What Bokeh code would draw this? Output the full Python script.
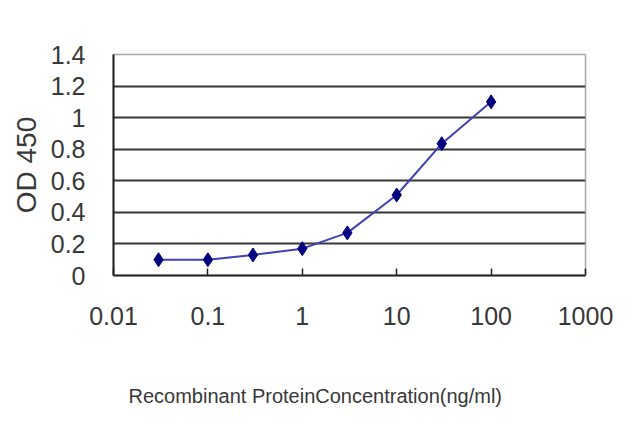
from bokeh.plotting import figure
from bokeh.models import FixedTicker, CustomJSTickFormatter, Range1d, Title
from bokeh.embed import file_html
from bokeh.resources import INLINE

# concentration (ng/ml) and OD 450 readings
conc = [0.03, 0.1, 0.3, 1, 3, 10, 30, 100]
od450 = [0.10, 0.10, 0.13, 0.17, 0.27, 0.51, 0.835, 1.10]

x_ticks = [0.01, 0.1, 1, 10, 100, 1000]
x_tick_labels = ["0.01", "0.1", "1", "10", "100", "1000"]
y_ticks = [0, 0.2, 0.4, 0.6, 0.8, 1.0, 1.2, 1.4]
y_tick_labels = ["0", "0.2", "0.4", "0.6", "0.8", "1", "1.2", "1.4"]
grid_lines = [0.2, 0.4, 0.6, 0.8, 1.0, 1.2]

FONT = "Liberation Sans, Arial, sans-serif"
TEXT = "#383838"

p = figure(width=624, height=411, x_axis_type="log",
           x_range=Range1d(0.01, 1000), y_range=Range1d(0, 1.4),
           output_backend="svg", toolbar_location=None,
           min_border_left=113, min_border_right=39,
           min_border_top=54, min_border_bottom=136)
p.frame_width = 472
p.frame_height = 221
p.outline_line_color = "#a8a8a8"
p.outline_line_width = 1.5

fmt_code = """
let best = 0;
for (let i = 0; i < tv.length; i++) {
  if (Math.abs(tv[i] - tick) < Math.abs(tv[best] - tick)) best = i;
}
return tl[best];
"""

# x axis
xa = p.xaxis[0]
xa.ticker = FixedTicker(ticks=x_ticks)
xa.formatter = CustomJSTickFormatter(args=dict(tv=x_ticks, tl=x_tick_labels), code=fmt_code)
xa.axis_line_color = "#222222"
xa.axis_line_width = 2
xa.major_tick_in = 7
xa.major_tick_out = 0
xa.major_tick_line_color = "#222222"
xa.major_tick_line_width = 1.5
xa.minor_tick_line_color = None
xa.major_label_standoff = 31
xa.major_label_text_font = FONT
xa.major_label_text_font_size = "25px"
xa.major_label_text_color = TEXT

# x axis title, set a little left of the frame centre as in the original
p.add_layout(Title(text="Recombinant ProteinConcentration(ng/ml)", align="left",
                   offset=15, standoff=111, text_font=FONT, text_font_style="normal",
                   text_font_size="20px", text_color=TEXT), "below")

# y axis
ya = p.yaxis[0]
ya.ticker = FixedTicker(ticks=y_ticks)
ya.formatter = CustomJSTickFormatter(args=dict(tv=y_ticks, tl=y_tick_labels), code=fmt_code)
ya.axis_line_color = "#222222"
ya.axis_line_width = 2
ya.major_tick_line_color = None
ya.minor_tick_line_color = None
ya.major_label_standoff = 22
ya.major_label_text_font = FONT
ya.major_label_text_font_size = "25px"
ya.major_label_text_color = TEXT
ya.axis_label = "OD 450"
ya.axis_label_standoff = 6
ya.axis_label_text_font = FONT
ya.axis_label_text_font_style = "normal"
ya.axis_label_text_font_size = "28px"
ya.axis_label_text_color = TEXT

p.xgrid.grid_line_color = None
p.ygrid.ticker = FixedTicker(ticks=grid_lines)
p.ygrid.grid_line_color = "#383838"
p.ygrid.grid_line_width = 2

p.line(conc, od450, line_color="#4040b8", line_width=2)
p.scatter(conc, od450, marker="diamond", size=14, fill_color="#000080",
          line_color="#000080")

open("out.html", "w").write(file_html(p, INLINE))
